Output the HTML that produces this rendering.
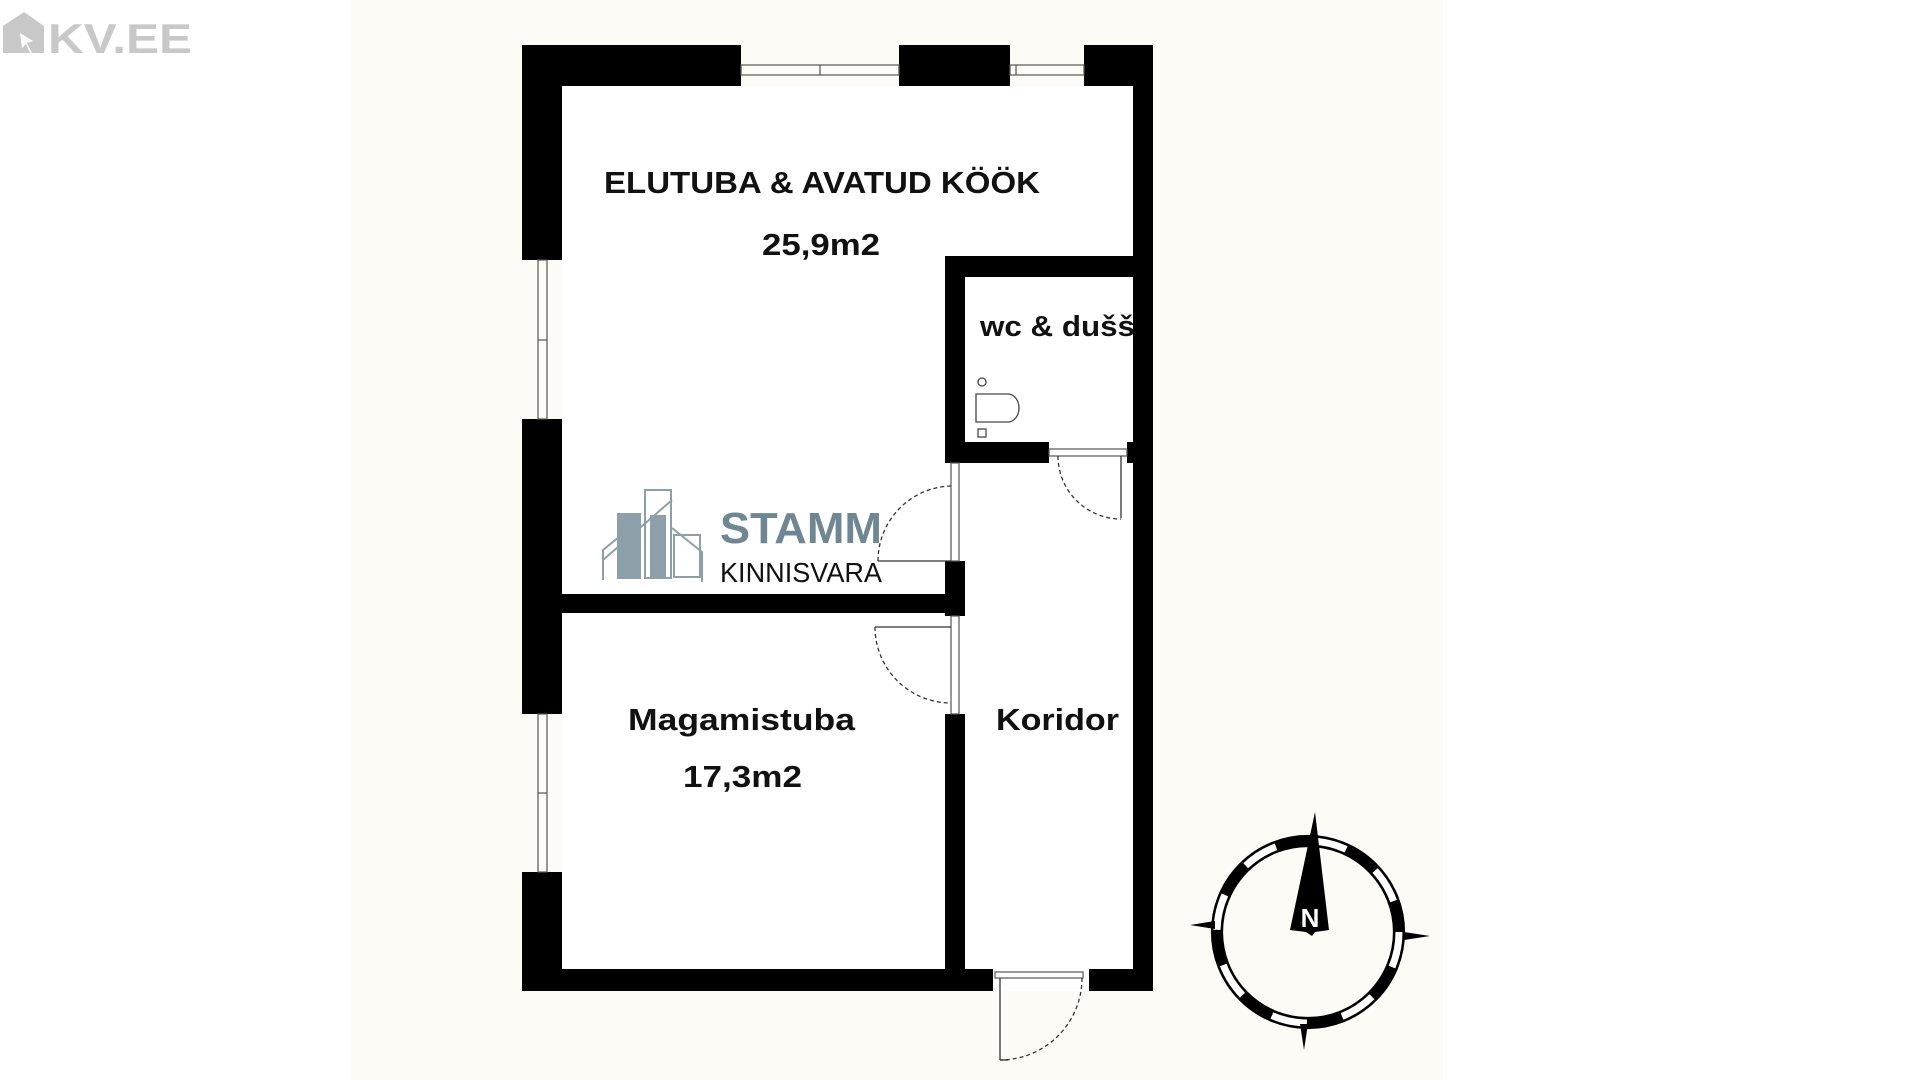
<!DOCTYPE html>
<html><head><meta charset="utf-8"><style>
html,body{margin:0;padding:0;background:#fff;}
svg{display:block}
text{font-family:"Liberation Sans",sans-serif;}
</style></head><body>
<svg width="1920" height="1080" viewBox="0 0 1920 1080" xmlns="http://www.w3.org/2000/svg">
<rect x="0" y="0" width="1920" height="1080" fill="#fff"/>
<rect x="351" y="0" width="1092" height="1080" fill="#fcfbf6"/>
<!-- KV.EE logo -->
<path d="M3 53 L3 26 L24 12 L44 26 L44 53 L32 53 L27 43 L33 41 L20 33 L22 48 L26 44 L30 53 Z" fill="#c8c8c8"/>
<text x="48" y="53" font-size="42" font-weight="bold" fill="#c8c8c8" textLength="144" lengthAdjust="spacingAndGlyphs">KV.EE</text>
<!-- interior -->
<rect x="562" y="86" width="571" height="884" fill="#fff"/>
<rect x="992" y="969" width="98" height="22" fill="#fff"/>
<g fill="#000">
<rect x="522" y="45" width="219" height="41"/>
<rect x="899" y="45" width="111" height="41"/>
<rect x="1084" y="45" width="69" height="41"/>
<rect x="522" y="45" width="40" height="215"/>
<rect x="522" y="419" width="40" height="295"/>
<rect x="522" y="872" width="40" height="119"/>
<rect x="1133" y="45" width="20" height="946"/>
<rect x="522" y="969" width="471" height="22"/>
<rect x="1089" y="969" width="64" height="22"/>
<rect x="945" y="256" width="188" height="21"/>
<rect x="945" y="256" width="20" height="207"/>
<rect x="945" y="442" width="104" height="21"/>
<rect x="1127" y="442" width="6" height="21"/>
<rect x="945" y="561" width="20" height="55"/>
<rect x="945" y="714" width="20" height="277"/>
<rect x="562" y="594" width="403" height="19"/>
</g>
<g fill="none" stroke="#555" stroke-width="1.2">
<rect x="741" y="65" width="158" height="10"/><line x1="820" y1="65" x2="820" y2="75"/>
<rect x="1010" y="65" width="74" height="10"/><line x1="1016" y1="65" x2="1016" y2="75"/>
<rect x="538" y="260" width="9" height="159"/><line x1="538" y1="340" x2="547" y2="340"/>
<rect x="538" y="714" width="9" height="158"/><line x1="538" y1="793" x2="547" y2="793"/>
<rect x="951" y="463" width="8" height="98"/>
<rect x="951" y="616" width="8" height="98"/>
<rect x="1049" y="449" width="78" height="7"/>
<rect x="995" y="972" width="88" height="6"/>
</g>
<g fill="none" stroke="#333" stroke-width="1.3">
<line x1="878" y1="561" x2="951" y2="561"/>
<path d="M878 561 A75 75 0 0 1 951 486" stroke-dasharray="4 3"/>
<line x1="875" y1="627" x2="951" y2="627"/>
<path d="M875 627 A76 76 0 0 0 951 703" stroke-dasharray="4 3"/>
<line x1="1121" y1="456" x2="1121" y2="518"/>
<path d="M1058 456 A63 63 0 0 0 1121 519" stroke-dasharray="4 3"/>
<line x1="1000" y1="978" x2="1000" y2="1060"/>
<line x1="1000" y1="1060" x2="1008" y2="1060"/>
<path d="M1082 978 A82 82 0 0 1 1000 1060" stroke-dasharray="4 3"/>
</g>
<g fill="none" stroke="#444" stroke-width="1.3">
<circle cx="982" cy="382" r="4"/>
<path d="M976 394 L1008 394 A11 14 0 0 1 1008 422 L976 422 Z"/>
<rect x="978" y="429" width="8" height="8"/>
</g>
<g font-weight="bold" fill="#111">
<text x="604" y="193" font-size="31" textLength="436" lengthAdjust="spacingAndGlyphs">ELUTUBA &amp; AVATUD KÖÖK</text>
<text x="762" y="255" font-size="31" textLength="118" lengthAdjust="spacingAndGlyphs">25,9m2</text>
<text x="980" y="336" font-size="29" textLength="155" lengthAdjust="spacingAndGlyphs">wc &amp; dušš</text>
<text x="628" y="730" font-size="31" textLength="227" lengthAdjust="spacingAndGlyphs">Magamistuba</text>
<text x="683" y="787" font-size="31" textLength="119" lengthAdjust="spacingAndGlyphs">17,3m2</text>
<text x="996" y="730" font-size="31" textLength="123" lengthAdjust="spacingAndGlyphs">Koridor</text>
</g>
<g fill="#7a8f9a" opacity="0.85">
<rect x="617" y="513" width="24" height="66"/>
<rect x="645" y="490" width="26" height="88" fill="none" stroke="#7a8f9a" stroke-width="2"/>
<rect x="650" y="515" width="16" height="62"/>
<path d="M603 580 L603 550 L640 520 M603 560 L672 500 M672 528 L702 552 L702 582" fill="none" stroke="#7a8f9a" stroke-width="2"/>
<rect x="674" y="535" width="26" height="42" fill="none" stroke="#7a8f9a" stroke-width="2"/>
</g>
<text x="720" y="543" font-size="44" font-weight="bold" fill="#6f8793" textLength="162" lengthAdjust="spacingAndGlyphs">STAMM</text>
<text x="720" y="582" font-size="28" fill="#111" textLength="162" lengthAdjust="spacingAndGlyphs">KINNISVARA</text>
<g>
<circle cx="1308" cy="932" r="91" fill="none" stroke="#000" stroke-width="11"/>
<circle cx="1308" cy="932" r="91" fill="none" stroke="#fff" stroke-width="7" stroke-dasharray="36 36"/>
<circle cx="1308" cy="932" r="96.5" fill="none" stroke="#000" stroke-width="1.2"/>
<circle cx="1308" cy="932" r="85.5" fill="none" stroke="#000" stroke-width="1.2"/>
<path d="M1190 925 L1215 921 L1215 929 Z" fill="#000"/>
<path d="M1430 936 L1404 932 L1404 940 Z" fill="#000"/>
<path d="M1304 1050 L1300 1024 L1308 1024 Z" fill="#000"/>
<path d="M1315 812 L1329 930 L1315 932 L1312 936 L1306 932 L1290 930 Z" fill="#000"/>
<text x="1310" y="927" font-size="26" font-weight="bold" fill="#fff" text-anchor="middle">N</text>
</g>
</svg>
</body></html>
